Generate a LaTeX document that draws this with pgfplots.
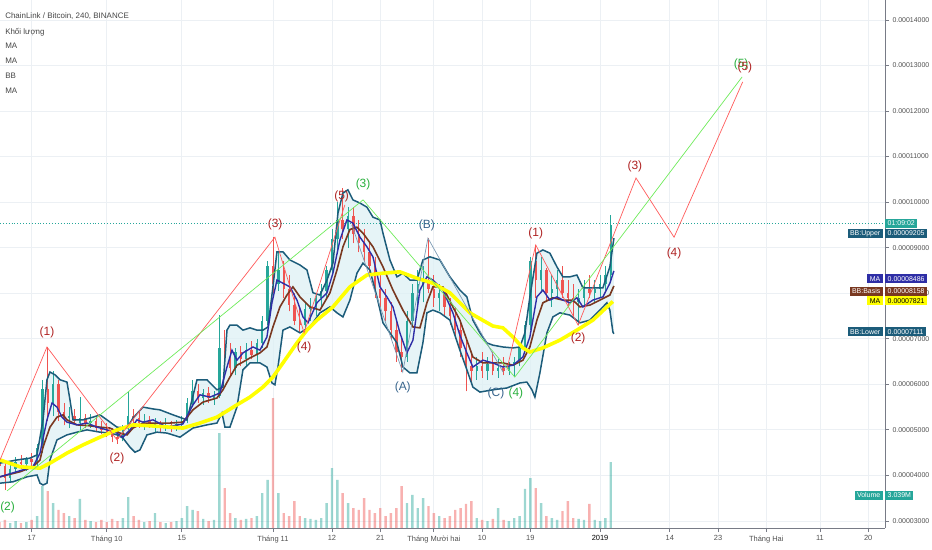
\documentclass[border=0pt]{standalone}
\usepackage{fontspec}
\setmainfont{Liberation Sans}
\usepackage{pgfplots}
\usepgfplotslibrary{fillbetween}
\pgfplotsset{compat=1.18}
\usepackage{pgfplotstable}

\definecolor{gridc}{RGB}{236,240,244}
\definecolor{axc}{RGB}{120,123,134}
\definecolor{tickc}{RGB}{80,80,80}
\definecolor{upc}{RGB}{38,166,154}
\definecolor{dnc}{RGB}{239,83,80}
\definecolor{bbc}{RGB}{28,92,122}
\definecolor{bbfill}{RGB}{222,240,244}
\definecolor{basisc}{RGB}{121,56,32}
\definecolor{mablue}{RGB}{46,46,166}
\definecolor{mayel}{RGB}{255,255,0}
\definecolor{ewred}{RGB}{255,90,90}
\definecolor{ewgreen}{RGB}{110,235,90}
\definecolor{ewblue}{RGB}{125,155,180}
\definecolor{lbred}{RGB}{175,35,35}
\definecolor{lbgreen}{RGB}{40,175,60}
\definecolor{lbblue}{RGB}{55,100,140}
\definecolor{txtc}{RGB}{70,70,70}

% daily candles: day open high low close volume(M)
\pgfplotstableread{
d o h l c v
-4 3.95 4.25 3.85 4.15 0.46
-3 4.15 4.40 4.05 4.30 0.64
-1 4.25 4.40 4.10 4.35 0.55
1 4.30 4.70 4.20 4.60 1.10
2 4.60 6.10 4.50 5.90 3.86
4 5.60 6.30 5.30 6.00 2.30
7 5.25 5.50 5.05 5.30 1.10
9 5.15 5.72 5.00 5.25 2.67
11 5.15 5.35 5.05 5.20 0.64
17 4.80 5.10 4.75 5.05 0.92
18 5.05 5.83 5.00 5.30 2.85
21 5.15 5.35 5.00 5.20 0.55
23 5.10 5.25 4.95 5.15 1.38
25 5.05 5.25 4.98 5.10 0.46
27 5.05 5.22 4.98 5.12 0.64
28 5.12 5.30 5.00 5.20 0.92
29 5.20 5.70 5.15 5.60 2.02
30 5.60 6.10 5.50 5.85 1.66
32 5.70 5.90 5.55 5.80 0.83
34 5.70 5.85 5.55 5.75 0.74
35 5.75 7.52 5.70 6.80 8.74
38 6.35 6.80 6.20 6.70 0.92
40 6.55 6.90 6.40 6.75 0.83
42 6.65 7.00 6.50 6.90 1.10
43 6.90 7.50 6.80 7.40 3.22
44 7.40 8.70 7.30 8.60 4.42
46 8.20 8.90 8.05 8.50 3.22
51 7.30 7.80 7.15 7.65 0.92
52 7.65 7.90 7.40 7.70 0.83
53 7.70 8.00 7.50 7.90 0.74
54 7.90 8.20 7.70 8.05 0.92
55 8.05 8.60 7.90 8.50 2.30
56 8.50 9.40 8.40 9.20 5.52
57 9.20 10.00 8.90 9.60 4.42
59 9.40 9.90 9.00 9.70 2.30
70 6.60 7.60 6.50 7.40 2.30
71 7.40 8.20 7.30 8.00 3.04
72 8.00 8.50 7.70 8.20 1.84
73 8.20 8.60 7.80 8.30 2.76
76 7.90 8.20 7.60 8.00 1.10
83 6.30 6.60 6.10 6.40 0.92
85 6.30 6.60 6.10 6.45 0.64
87 6.30 6.55 6.15 6.35 1.84
89 6.30 6.50 6.20 6.40 0.64
90 6.40 6.60 6.16 6.50 0.92
91 6.50 6.90 6.40 6.80 1.10
92 6.80 7.40 6.70 7.30 3.59
93 7.30 8.80 7.20 8.70 4.60
95 8.30 8.80 8.00 8.50 2.30
97 8.00 8.40 7.70 8.10 0.92
98 8.10 8.50 7.90 8.30 0.74
102 7.80 8.10 7.30 7.90 0.83
103 7.90 8.30 7.70 8.10 0.74
105 8.00 8.30 7.80 8.10 0.74
106 8.10 8.40 7.90 8.20 0.64
107 8.20 8.60 8.00 8.40 0.92
108 8.40 9.72 8.30 9.50 6.07
}\candlesup

\pgfplotstableread{
d o h l c v
-6 4.30 4.45 4.10 4.20 0.55
-5 4.20 4.30 3.68 3.95 0.74
-2 4.30 4.45 4.15 4.25 0.46
0 4.35 4.50 4.20 4.30 0.74
3 5.90 6.82 5.20 5.60 3.40
5 6.00 6.10 5.20 5.40 1.66
6 5.40 5.60 5.10 5.25 1.38
8 5.30 5.45 5.10 5.20 0.92
10 5.25 5.35 5.05 5.15 0.74
12 5.20 5.30 4.95 5.05 0.55
13 5.05 5.20 4.90 5.00 0.74
14 5.00 5.15 4.85 4.95 0.55
15 4.95 5.05 4.73 4.85 0.83
16 4.85 4.95 4.70 4.80 0.64
19 5.30 5.45 5.10 5.25 1.10
20 5.25 5.40 5.05 5.15 0.74
22 5.20 5.30 5.05 5.10 0.64
24 5.15 5.20 4.95 5.05 0.55
26 5.10 5.20 4.95 5.05 0.55
31 5.85 6.00 5.60 5.70 1.56
33 5.80 5.95 5.60 5.70 0.64
36 6.80 7.20 6.30 6.60 3.68
37 6.60 6.90 6.20 6.35 1.38
39 6.70 6.85 6.40 6.55 0.74
41 6.75 6.95 6.55 6.65 0.92
45 8.60 9.23 8.00 8.20 11.96
47 8.50 8.70 7.90 8.10 1.38
48 8.10 8.40 7.60 7.75 1.10
49 7.75 8.00 7.30 7.40 2.48
50 7.40 7.70 7.13 7.30 1.10
58 9.60 10.31 9.20 9.40 3.22
60 9.70 9.90 9.10 9.30 1.84
61 9.30 9.60 8.90 9.10 1.66
62 9.10 9.40 8.70 8.90 2.76
63 8.90 9.10 8.40 8.60 1.66
64 8.60 8.80 7.90 8.10 1.38
65 8.10 8.40 7.70 7.90 1.84
66 7.90 8.10 7.40 7.60 1.10
67 7.60 7.80 7.00 7.20 1.38
68 7.20 7.40 6.50 6.70 1.84
69 6.70 7.00 6.27 6.60 3.86
74 8.30 9.21 8.00 8.10 2.02
75 8.10 8.40 7.70 7.90 1.38
77 8.00 8.10 7.50 7.70 0.92
78 7.70 7.90 7.30 7.50 1.10
79 7.50 7.70 7.00 7.20 1.66
80 7.20 7.40 6.60 6.80 1.84
81 6.80 7.00 5.85 6.40 2.21
82 6.40 6.70 6.00 6.30 2.48
84 6.40 6.70 6.15 6.30 0.74
86 6.45 6.70 6.20 6.30 0.83
88 6.35 6.60 6.20 6.30 0.74
94 8.70 9.06 7.90 8.30 3.68
96 8.50 8.55 7.80 8.00 1.10
99 8.30 8.60 7.90 8.00 1.56
100 8.00 8.30 7.70 7.90 2.48
101 7.90 8.20 7.50 7.80 0.92
104 8.10 8.40 7.90 8.00 2.21
}\candlesdn

\pgfplotsset{candle/.style={only marks, mark size=0pt, mark options={draw=none, fill=none}, forget plot,
  error bars/.cd, y dir=plus, y explicit, error mark=none}}

\begin{document}
\begin{tikzpicture}

% ---------- volume pane ----------
\begin{axis}[at={(0,0)}, anchor=south west, scale only axis,
  width=885bp, height=528bp, xmin=-5.91, xmax=159.14, ymin=0, ymax=48.6,
  hide axis]
\addplot[ybar, bar width=2.4bp, fill=upc, fill opacity=0.45, draw=none] table[x=d,y=v]{\candlesup};
\addplot[ybar, bar width=2.4bp, fill=dnc, fill opacity=0.45, draw=none] table[x=d,y=v]{\candlesdn};
\end{axis}

% ---------- price pane ----------
\begin{axis}[at={(0,0)}, anchor=south west, scale only axis,
  width=885bp, height=528bp,
  xmin=-5.91, xmax=159.14, ymin=2.846, ymax=14.438,
  axis x line*=bottom, axis y line*=right,
  axis line style={draw=axc, line width=1bp, -},
  xtick={0,14,28,45,56,65,75,84,93,106,119,128,137,147,156},
  xticklabels={17,Tháng 10,15,Tháng 11,12,21,Tháng Mười hai,10,19,\textcolor{black}{2019},14,23,Tháng Hai,11,20},
  ytick={3,4,5,6,7,8,9,10,11,12,13,14},
  yticklabels={0.00003000,0.00004000,0.00005000,0.00006000,0.00007000,0.00008000,0.00009000,0.00010000,0.00011000,0.00012000,0.00013000,0.00014000},
  tick align=outside, major tick length=4bp,
  tick style={draw=axc, line width=0.8bp},
  grid=major, major grid style={draw=gridc, line width=0.8bp},
  xticklabel style={font=\fontsize{7.5}{9}\selectfont, text=tickc},
  yticklabel style={font=\fontsize{7}{8}\selectfont, text=tickc},
  clip=false]

% Bollinger band boundaries (invisible, for the fill)
\addplot[draw=none, name path=bbU, forget plot] coordinates {
(-5.91,4.27) (-2.74,4.34) (-0.32,4.38) (0.99,4.45) (2.11,5.22) (2.85,6.10) (3.41,6.27) (4.34,6.21) (5.28,6.10) (6.58,6.05) (7.14,5.66) (7.70,5.22) (9.57,5.22) (11.43,5.28) (12.74,5.33) (14.04,5.22) (15.91,5.06) (17.77,5.04) (18.89,5.26) (20.75,5.50) (22.62,5.46) (23.92,5.44) (26.35,5.33) (28.96,5.22) (30.83,6.10) (32.69,6.10) (34.55,5.88) (35.67,5.94) (36.42,7.19) (36.97,7.30) (38.28,7.30) (39.40,7.19) (40.71,7.24) (42.01,7.19) (43.13,7.19) (44.06,7.26) (44.99,8.14) (45.74,8.91) (46.86,8.91) (48.16,8.73) (50.03,8.62) (51.34,8.51) (52.46,8.01) (53.76,7.96) (55.07,8.29) (56.18,8.66) (57.12,9.76) (58.05,10.20) (58.98,10.27) (59.91,10.05) (61.22,9.98) (62.52,9.89) (63.64,9.67) (64.95,9.61) (65.51,9.32) (66.81,8.73) (68.12,8.36) (69.23,8.44) (70.54,8.29) (71.84,8.29) (72.96,8.73) (74.27,8.80) (76.13,8.73) (77.99,8.36) (79.86,8.07) (81.16,7.92) (82.28,7.41) (83.59,7.13) (84.89,6.91) (86.01,6.86) (87.88,6.82) (89.74,6.80) (91.05,6.82) (91.98,7.13) (92.91,7.92) (94.22,8.88) (95.34,8.95) (96.64,8.88) (97.95,8.58) (99.07,8.36) (100.37,8.36) (101.68,8.40) (102.80,8.12) (104.66,8.12) (106.53,8.12) (107.83,8.58) (108.58,9.21)};
\addplot[draw=none, name path=bbL, forget plot] coordinates {
(-5.91,3.83) (-3.49,3.86) (-0.88,3.97) (0.99,4.01) (1.55,3.83) (2.11,3.79) (2.85,3.83) (3.41,4.34) (4.72,4.78) (6.58,4.89) (8.45,4.95) (10.31,5.00) (12.74,4.95) (14.60,4.93) (15.91,4.89) (17.02,4.82) (18.33,4.62) (19.26,4.51) (20.19,4.56) (21.50,4.89) (23.36,4.95) (25.23,4.93) (27.65,4.84) (30.08,5.04) (32.69,5.11) (34.55,5.15) (35.49,5.37) (36.04,5.06) (36.97,5.06) (38.28,5.50) (39.40,6.32) (40.71,6.47) (42.57,6.47) (43.87,6.38) (44.81,6.03) (45.36,5.99) (45.93,6.38) (46.86,7.19) (48.16,7.26) (50.03,7.13) (51.90,7.26) (53.76,7.57) (55.63,7.70) (56.93,7.57) (58.05,7.48) (59.35,7.85) (60.66,8.44) (61.78,8.66) (63.08,8.51) (64.39,7.92) (65.51,7.35) (66.81,7.13) (68.12,6.91) (69.23,6.38) (70.54,6.25) (71.84,6.25) (72.96,6.91) (73.71,7.57) (74.82,7.63) (76.13,7.57) (77.99,7.41) (79.86,6.75) (81.16,6.32) (82.28,5.94) (83.59,5.83) (86.01,5.88) (88.62,5.92) (91.05,6.03) (92.35,6.05) (93.29,5.88) (93.85,5.72) (94.78,6.25) (96.09,7.13) (97.20,7.48) (98.51,7.57) (100.37,7.52) (102.24,7.35) (104.11,7.41) (105.97,7.63) (107.27,7.79) (107.83,7.63) (108.39,7.15) (108.58,7.11)};
\addplot[bbfill, fill opacity=0.75, forget plot] fill between[of=bbU and bbL];

% current price line
\addplot[upc, dotted, line width=0.9bp, forget plot] coordinates {(-5.91,9.54) (159.14,9.54)};

% candles: wicks and bodies
\addplot[candle, error bar style={draw=upc, line width=0.7bp, solid}]
  table[x=d, y=l, y error expr=\thisrow{h}-\thisrow{l}]{\candlesup};
\addplot[candle, error bar style={draw=upc, line width=2.4bp, solid}]
  table[x=d, y=o, y error expr=\thisrow{c}-\thisrow{o}]{\candlesup};
\addplot[candle, error bar style={draw=dnc, line width=0.7bp, solid}]
  table[x=d, y=l, y error expr=\thisrow{h}-\thisrow{l}]{\candlesdn};
\addplot[candle, error bar style={draw=dnc, line width=2.4bp, solid}]
  table[x=d, y=c, y error expr=\thisrow{o}-\thisrow{c}]{\candlesdn};

% Bollinger lines
\addplot[bbc, line width=1.5bp, forget plot] coordinates {
(-5.91,4.27) (-2.74,4.34) (-0.32,4.38) (0.99,4.45) (2.11,5.22) (2.85,6.10) (3.41,6.27) (4.34,6.21) (5.28,6.10) (6.58,6.05) (7.14,5.66) (7.70,5.22) (9.57,5.22) (11.43,5.28) (12.74,5.33) (14.04,5.22) (15.91,5.06) (17.77,5.04) (18.89,5.26) (20.75,5.50) (22.62,5.46) (23.92,5.44) (26.35,5.33) (28.96,5.22) (30.83,6.10) (32.69,6.10) (34.55,5.88) (35.67,5.94) (36.42,7.19) (36.97,7.30) (38.28,7.30) (39.40,7.19) (40.71,7.24) (42.01,7.19) (43.13,7.19) (44.06,7.26) (44.99,8.14) (45.74,8.91) (46.86,8.91) (48.16,8.73) (50.03,8.62) (51.34,8.51) (52.46,8.01) (53.76,7.96) (55.07,8.29) (56.18,8.66) (57.12,9.76) (58.05,10.20) (58.98,10.27) (59.91,10.05) (61.22,9.98) (62.52,9.89) (63.64,9.67) (64.95,9.61) (65.51,9.32) (66.81,8.73) (68.12,8.36) (69.23,8.44) (70.54,8.29) (71.84,8.29) (72.96,8.73) (74.27,8.80) (76.13,8.73) (77.99,8.36) (79.86,8.07) (81.16,7.92) (82.28,7.41) (83.59,7.13) (84.89,6.91) (86.01,6.86) (87.88,6.82) (89.74,6.80) (91.05,6.82) (91.98,7.13) (92.91,7.92) (94.22,8.88) (95.34,8.95) (96.64,8.88) (97.95,8.58) (99.07,8.36) (100.37,8.36) (101.68,8.40) (102.80,8.12) (104.66,8.12) (106.53,8.12) (107.83,8.58) (108.58,9.21)};
\addplot[bbc, line width=1.5bp, forget plot] coordinates {
(-5.91,3.83) (-3.49,3.86) (-0.88,3.97) (0.99,4.01) (1.55,3.83) (2.11,3.79) (2.85,3.83) (3.41,4.34) (4.72,4.78) (6.58,4.89) (8.45,4.95) (10.31,5.00) (12.74,4.95) (14.60,4.93) (15.91,4.89) (17.02,4.82) (18.33,4.62) (19.26,4.51) (20.19,4.56) (21.50,4.89) (23.36,4.95) (25.23,4.93) (27.65,4.84) (30.08,5.04) (32.69,5.11) (34.55,5.15) (35.49,5.37) (36.04,5.06) (36.97,5.06) (38.28,5.50) (39.40,6.32) (40.71,6.47) (42.57,6.47) (43.87,6.38) (44.81,6.03) (45.36,5.99) (45.93,6.38) (46.86,7.19) (48.16,7.26) (50.03,7.13) (51.90,7.26) (53.76,7.57) (55.63,7.70) (56.93,7.57) (58.05,7.48) (59.35,7.85) (60.66,8.44) (61.78,8.66) (63.08,8.51) (64.39,7.92) (65.51,7.35) (66.81,7.13) (68.12,6.91) (69.23,6.38) (70.54,6.25) (71.84,6.25) (72.96,6.91) (73.71,7.57) (74.82,7.63) (76.13,7.57) (77.99,7.41) (79.86,6.75) (81.16,6.32) (82.28,5.94) (83.59,5.83) (86.01,5.88) (88.62,5.92) (91.05,6.03) (92.35,6.05) (93.29,5.88) (93.85,5.72) (94.78,6.25) (96.09,7.13) (97.20,7.48) (98.51,7.57) (100.37,7.52) (102.24,7.35) (104.11,7.41) (105.97,7.63) (107.27,7.79) (107.83,7.63) (108.39,7.15) (108.58,7.11)};
% BB basis
\addplot[basisc, line width=1.6bp, forget plot] coordinates {
(-5.91,3.97) (-2.18,4.08) (0.24,4.19) (1.55,4.34) (2.11,4.62) (3.41,5.06) (4.72,5.28) (5.84,5.33) (6.58,5.22) (8.45,5.11) (10.87,5.09) (12.74,5.06) (14.60,5.04) (16.46,4.93) (17.77,4.89) (18.89,5.04) (20.75,5.15) (23.36,5.15) (25.79,5.15) (28.21,5.17) (30.08,5.44) (31.94,5.61) (34.55,5.70) (35.67,5.88) (36.97,6.16) (38.28,6.42) (39.40,6.49) (40.71,6.58) (42.57,6.69) (43.87,6.82) (44.99,7.26) (46.30,7.70) (47.60,7.96) (48.72,8.14) (50.03,7.92) (51.90,7.70) (53.76,7.63) (55.63,8.01) (56.93,8.51) (58.05,9.02) (59.35,9.40) (60.66,9.45) (61.78,9.32) (63.64,9.02) (65.51,8.58) (67.37,8.07) (69.23,7.63) (71.10,7.26) (72.40,7.24) (73.71,7.79) (74.82,8.14) (76.69,8.14) (78.55,7.70) (79.86,7.41) (81.16,6.97) (82.28,6.60) (84.15,6.47) (86.01,6.47) (87.88,6.47) (89.74,6.42) (91.61,6.53) (92.91,6.82) (94.22,7.41) (95.34,7.79) (97.20,7.90) (99.07,7.85) (100.93,7.85) (102.24,7.70) (104.11,7.74) (105.97,7.85) (107.83,7.96) (108.58,8.16)};
% short MA (blue)
\addplot[mablue, line width=1.4bp, forget plot] coordinates {
(-5.91,3.97) (0.24,4.19) (1.55,4.49) (2.85,5.22) (3.79,5.59) (4.72,5.50) (5.65,5.28) (6.58,5.17) (8.45,5.11) (10.31,5.15) (12.18,5.06) (14.04,5.00) (15.91,4.93) (17.02,4.84) (18.33,5.00) (19.63,5.22) (20.75,5.17) (22.62,5.22) (25.23,5.06) (28.21,5.13) (30.08,5.55) (31.38,5.77) (33.25,5.72) (35.11,5.81) (36.42,6.38) (37.35,6.75) (38.28,6.53) (39.40,6.69) (41.27,6.82) (42.57,6.75) (43.87,7.04) (44.81,7.79) (45.74,8.29) (46.86,8.22) (48.16,8.14) (49.47,7.85) (50.59,7.48) (51.52,7.35) (53.20,7.79) (55.07,8.01) (56.18,8.44) (57.49,9.17) (58.79,9.61) (59.91,9.54) (61.22,9.23) (62.52,9.02) (63.64,8.80) (64.95,8.14) (66.25,7.92) (67.37,7.70) (68.67,7.13) (69.98,6.69) (71.10,6.97) (72.40,8.07) (73.71,8.36) (74.82,8.29) (76.69,8.07) (78.55,7.57) (79.86,7.08) (81.16,6.69) (82.28,6.38) (84.15,6.53) (86.01,6.47) (87.88,6.38) (89.74,6.42) (91.61,6.60) (92.91,7.04) (94.22,7.92) (95.34,8.07) (96.64,7.85) (97.95,7.92) (99.07,7.85) (100.37,7.79) (101.68,7.90) (102.80,7.70) (104.66,7.85) (106.53,7.92) (107.83,8.22) (108.58,8.49)};
% long MA (yellow)
\addplot[mayel, line width=3.6bp, forget plot] coordinates {
(-5.91,4.34) (-2.18,4.19) (1.55,4.16) (3.41,4.27) (6.58,4.49) (9.57,4.67) (12.74,4.84) (15.91,5.00) (18.89,5.11) (22.06,5.09) (28.21,5.04) (31.38,5.15) (34.55,5.28) (38.28,5.55) (40.71,5.72) (43.13,5.94) (44.99,6.16) (46.86,6.47) (49.47,6.91) (51.34,7.19) (53.20,7.41) (56.18,7.70) (59.35,8.14) (62.52,8.40) (65.51,8.44) (68.67,8.47) (71.84,8.33) (74.82,8.22) (77.99,8.01) (81.72,7.57) (83.03,7.48) (86.01,7.28) (87.88,7.24) (89.74,7.04) (91.61,6.80) (92.91,6.71) (95.34,6.80) (98.51,6.97) (101.68,7.19) (104.66,7.41) (108.39,7.82)};

% Elliott wave drawings
\addplot[ewred, line width=0.7bp, forget plot] coordinates {(-5.91,4.34) (2.85,6.82) (15.91,4.78) (45.36,9.23) (50.80,7.13) (58.40,9.94)};
\addplot[ewred, line width=0.7bp, forget plot] coordinates {(88.62,6.32) (94.00,9.06) (101.90,7.30) (112.70,10.53) (119.80,9.23) (132.60,12.64)};
\addplot[ewgreen, line width=0.7bp, forget plot] coordinates {(-4.60,3.66) (61.80,10.05) (90.10,6.16) (132.50,12.75)};
\addplot[ewblue, line width=0.7bp, forget plot] coordinates {(59.70,9.50) (69.20,6.27) (73.90,9.21) (87.90,6.27)};

\begin{scope}[font=\fontsize{12}{14}\selectfont]
\node[text=lbred] at (axis cs:2.85,7.15) {(1)};
\node[text=lbred] at (axis cs:15.9,4.38) {(2)};
\node[text=lbred] at (axis cs:45.4,9.52) {(3)};
\node[text=lbred] at (axis cs:50.8,6.80) {(4)};
\node[text=lbred] at (axis cs:57.8,10.13) {(5)};
\node[text=lbgreen] at (axis cs:61.8,10.38) {(3)};
\node[text=lbgreen] at (axis cs:-4.5,3.29) {(2)};
\node[text=lbblue] at (axis cs:69.2,5.94) {(A)};
\node[text=lbblue] at (axis cs:73.7,9.48) {(B)};
\node[text=lbblue] at (axis cs:86.6,5.81) {(C)};
\node[text=lbgreen] at (axis cs:90.3,5.79) {(4)};
\node[text=lbred] at (axis cs:94.0,9.32) {(1)};
\node[text=lbred] at (axis cs:101.9,7.00) {(2)};
\node[text=lbred] at (axis cs:112.5,10.79) {(3)};
\node[text=lbred] at (axis cs:119.8,8.88) {(4)};
\node[text=lbgreen] at (axis cs:132.3,13.03) {(5)};
\node[text=lbred] at (axis cs:133.0,12.95) {(5)};
\end{scope}

% top-left legend texts
\begin{scope}[font=\fontsize{8}{9}\selectfont]
\node[anchor=west, text=txtc, inner sep=0] at (axis description cs:0.0057,0.9703) {ChainLink / Bitcoin, 240, BINANCE};
\node[anchor=west, text=txtc, inner sep=0] at (axis description cs:0.0057,0.9388) {Khối lượng};
\node[anchor=west, text=txtc, inner sep=0] at (axis description cs:0.0057,0.9134) {MA};
\node[anchor=west, text=txtc, inner sep=0] at (axis description cs:0.0057,0.8850) {MA};
\node[anchor=west, text=txtc, inner sep=0] at (axis description cs:0.0057,0.8566) {BB};
\node[anchor=west, text=txtc, inner sep=0] at (axis description cs:0.0057,0.8282) {MA};
\end{scope}

% right-hand value labels
\begin{scope}[font=\fontsize{7}{8}\selectfont, every node/.style={inner xsep=2.5bp, inner ysep=1bp, minimum height=9bp}]
\node[anchor=west, fill=upc, text=white] at (axis cs:159.14,9.54) {01:09:02};
\node[anchor=west, fill=bbc, text=white] at (axis cs:159.14,9.31) {0.00009205};
\node[anchor=east, fill=bbc, text=white, xshift=-2bp] at (axis cs:159.14,9.31) {BB:Upper};
\node[anchor=west, fill=mablue, text=white] at (axis cs:159.14,8.32) {0.00008486};
\node[anchor=east, fill=mablue, text=white, xshift=-2bp] at (axis cs:159.14,8.32) {MA};
\node[anchor=west, fill=basisc, text=white] at (axis cs:159.14,8.04) {0.00008158};
\node[anchor=east, fill=basisc, text=white, xshift=-2bp] at (axis cs:159.14,8.04) {BB:Basis};
\node[anchor=west, fill=mayel, text=black] at (axis cs:159.14,7.83) {0.00007821};
\node[anchor=east, fill=mayel, text=black, xshift=-2bp] at (axis cs:159.14,7.83) {MA};
\node[anchor=west, fill=bbc, text=white] at (axis cs:159.14,7.15) {0.00007111};
\node[anchor=east, fill=bbc, text=white, xshift=-2bp] at (axis cs:159.14,7.15) {BB:Lower};
\node[anchor=west, fill=upc, text=white] at (axis cs:159.14,3.57) {3.039M};
\node[anchor=east, fill=upc, text=white, xshift=-2bp] at (axis cs:159.14,3.57) {Volume};
\end{scope}
\end{axis}
\pgfresetboundingbox
\path (0,-22bp) rectangle (932bp,528bp);
\end{tikzpicture}
\end{document}
